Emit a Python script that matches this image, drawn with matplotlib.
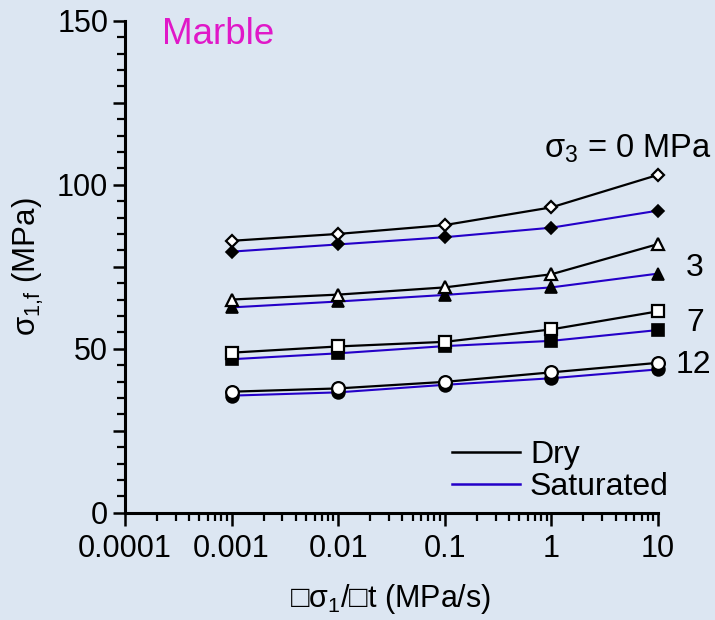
import matplotlib
matplotlib.use("Agg")
import matplotlib.pyplot as plt
from matplotlib.lines import Line2D
from matplotlib.ticker import FixedLocator, NullFormatter, LogLocator

plt.rcParams['font.family'] = ['Liberation Sans', 'DejaVu Sans']
plt.rcParams['mathtext.fontset'] = 'custom'
plt.rcParams['mathtext.rm'] = 'Liberation Sans'
plt.rcParams['mathtext.it'] = 'Liberation Sans:italic'

# ---- data ----
rates = [0.001, 0.01, 0.1, 1, 10]
confining = ["0", "3", "7", "12"]
dry_0 = [82.9, 85.0, 87.7, 93.1, 103.0]
sat_0 = [79.6, 81.8, 84.0, 86.9, 92.1]
dry_3 = [65.0, 66.5, 68.7, 72.7, 81.9]
sat_3 = [62.6, 64.4, 66.4, 68.7, 72.9]
dry_7 = [48.8, 50.7, 52.1, 55.9, 61.4]
sat_7 = [46.8, 48.6, 50.8, 52.4, 55.7]
dry_12 = [36.9, 37.9, 39.9, 42.8, 45.7]
sat_12 = [35.7, 36.7, 39.0, 41.0, 43.7]

dry_series = [dry_0, dry_3, dry_7, dry_12]
sat_series = [sat_0, sat_3, sat_7, sat_12]
markers = ['D', '^', 's', 'o']
msizes = [6.3, 9.0, 8.6, 9.2]

bg = '#dce6f2'
blue = '#2400c8'
magenta = '#e018c8'

fig = plt.figure(figsize=(7.15, 6.2), dpi=100, facecolor=bg)
ax = fig.add_axes([0.1748, 0.173, 0.9203 - 0.1748, 0.9666 - 0.173])
ax.set_facecolor(bg)

for s, m, ms in zip(sat_series, markers, msizes):
    ax.plot(rates, s, color=blue, lw=1.5, marker=m, markersize=ms,
            markerfacecolor='black', markeredgecolor='black',
            markeredgewidth=1.2, zorder=3, clip_on=False)
for d, m, ms in zip(dry_series, markers, msizes):
    ax.plot(rates, d, color='black', lw=1.6, marker=m, markersize=ms,
            markerfacecolor='white', markeredgecolor='black',
            markeredgewidth=1.6, zorder=4, clip_on=False)

ax.set_xscale('log')
ax.set_xlim(1e-4, 10)
ax.set_ylim(0, 150)

for sp in ['top', 'right']:
    ax.spines[sp].set_visible(False)
for sp in ['left', 'bottom']:
    ax.spines[sp].set_linewidth(2.2)

xticks = [1e-4, 1e-3, 1e-2, 1e-1, 1, 10]
xlabels = ['0.0001', '0.001', '0.01', '0.1', '1', '10']
ax.set_xticks(xticks)
ax.set_xticklabels(xlabels)
ax.xaxis.set_minor_locator(LogLocator(base=10, subs=range(2, 10), numticks=20))
ax.xaxis.set_minor_formatter(NullFormatter())

yticks = [0, 25, 50, 75, 100, 125, 150]
ylabels = ['0', '', '50', '', '100', '', '150']
ax.set_yticks(yticks)
ax.set_yticklabels(ylabels)
ax.yaxis.set_minor_locator(FixedLocator(range(0, 151, 5)))

ax.tick_params(axis='both', which='major', direction='out', length=9,
               width=1.8, labelsize=22, colors='black')
ax.tick_params(axis='both', which='minor', direction='out', length=6, width=1.6)
ax.tick_params(axis='x', which='major', pad=6)
ax.tick_params(axis='y', which='major', pad=3)

ax.set_ylabel(r'σ$_{\mathrm{1{,}f}}$ (MPa)', fontsize=22.5, labelpad=8)
fig.text(0.546, 0.034, '□σ$_1$/□t (MPa/s)', fontsize=22, ha='center', va='center')

fig.text(0.305, 0.944, 'Marble', color=magenta, fontsize=26.5, ha='center', va='center')
fig.text(0.878, 0.760, r'σ$_3$ = 0 MPa', fontsize=23.5, ha='center', va='center')
fig.text(0.972, 0.568, '3', fontsize=23, ha='center', va='center')
fig.text(0.972, 0.479, '7', fontsize=23, ha='center', va='center')
fig.text(0.970, 0.411, '12', fontsize=23, ha='center', va='center')

handles = [Line2D([], [], color='black', lw=1.8),
           Line2D([], [], color=blue, lw=1.8)]
leg = ax.legend(handles, ['Dry', 'Saturated'], frameon=False, fontsize=23,
                loc='lower left', bbox_to_anchor=(0.613, 0.022),
                handlelength=2.15, handletextpad=0.3, labelspacing=0.05,
                borderaxespad=0.0, borderpad=0.0)

fig.savefig('out.png', dpi=100, facecolor=bg)
